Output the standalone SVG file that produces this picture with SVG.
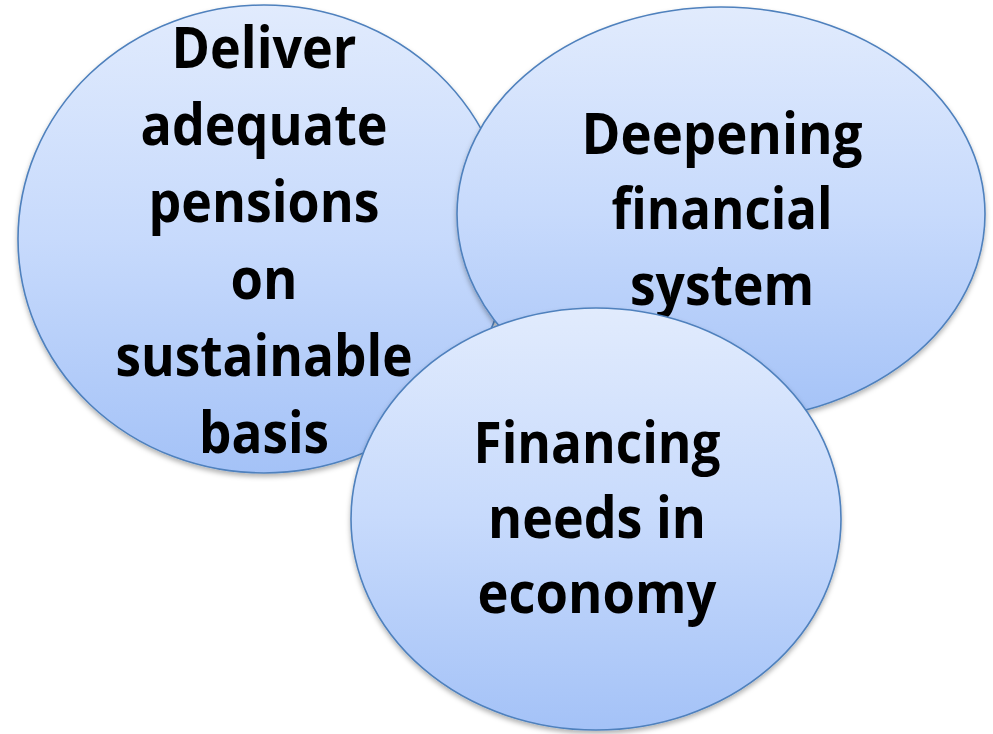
<svg xmlns="http://www.w3.org/2000/svg" width="993" height="734" viewBox="0 0 993 734">
<defs>
<linearGradient id="g" x1="0" y1="0" x2="0" y2="1">
<stop offset="0" stop-color="#e1ebfd"/>
<stop offset="0.5" stop-color="#c7dafc"/>
<stop offset="1" stop-color="#a4c2f7"/>
</linearGradient>
<filter id="sh" x="-10%" y="-10%" width="120%" height="125%">
<feDropShadow dx="0" dy="3" stdDeviation="2.5" flood-color="#000" flood-opacity="0.3"/>
</filter>
</defs>
<style>
.c{fill:url(#g);stroke:#4f81bd;stroke-width:1.6;filter:url(#sh)}
.t{font-family:"Open Sans","Liberation Sans",sans-serif;font-weight:bold;font-size:57px;fill:#000;text-anchor:middle}
</style>
<g id="connectors"/>
<g id="node1">
<ellipse class="c" cx="264" cy="239" rx="246" ry="234"/>
<text class="t" x="264" y="68" textLength="185" lengthAdjust="spacingAndGlyphs">Deliver</text>
<text class="t" x="264" y="145" textLength="247" lengthAdjust="spacingAndGlyphs">adequate</text>
<text class="t" x="264" y="222" textLength="231" lengthAdjust="spacingAndGlyphs">pensions</text>
<text class="t" x="264" y="299" textLength="67" lengthAdjust="spacingAndGlyphs">on</text>
<text class="t" x="264" y="376" textLength="297" lengthAdjust="spacingAndGlyphs">sustainable</text>
<text class="t" x="264" y="453" textLength="130" lengthAdjust="spacingAndGlyphs">basis</text>
</g>
<g id="node2">
<ellipse class="c" cx="721" cy="214" rx="264" ry="207"/>
<text class="t" x="722" y="154" textLength="281" lengthAdjust="spacingAndGlyphs">Deepening</text>
<text class="t" x="722" y="229" textLength="221" lengthAdjust="spacingAndGlyphs">financial</text>
<text class="t" x="722" y="305" textLength="184" lengthAdjust="spacingAndGlyphs">system</text>
</g>
<g id="node3">
<ellipse class="c" cx="596" cy="519" rx="245" ry="211"/>
<text class="t" x="597" y="463" textLength="247" lengthAdjust="spacingAndGlyphs">Financing</text>
<text class="t" x="597" y="538" textLength="218" lengthAdjust="spacingAndGlyphs">needs in</text>
<text class="t" x="597" y="613" textLength="239" lengthAdjust="spacingAndGlyphs">economy</text>
</g>
</svg>
